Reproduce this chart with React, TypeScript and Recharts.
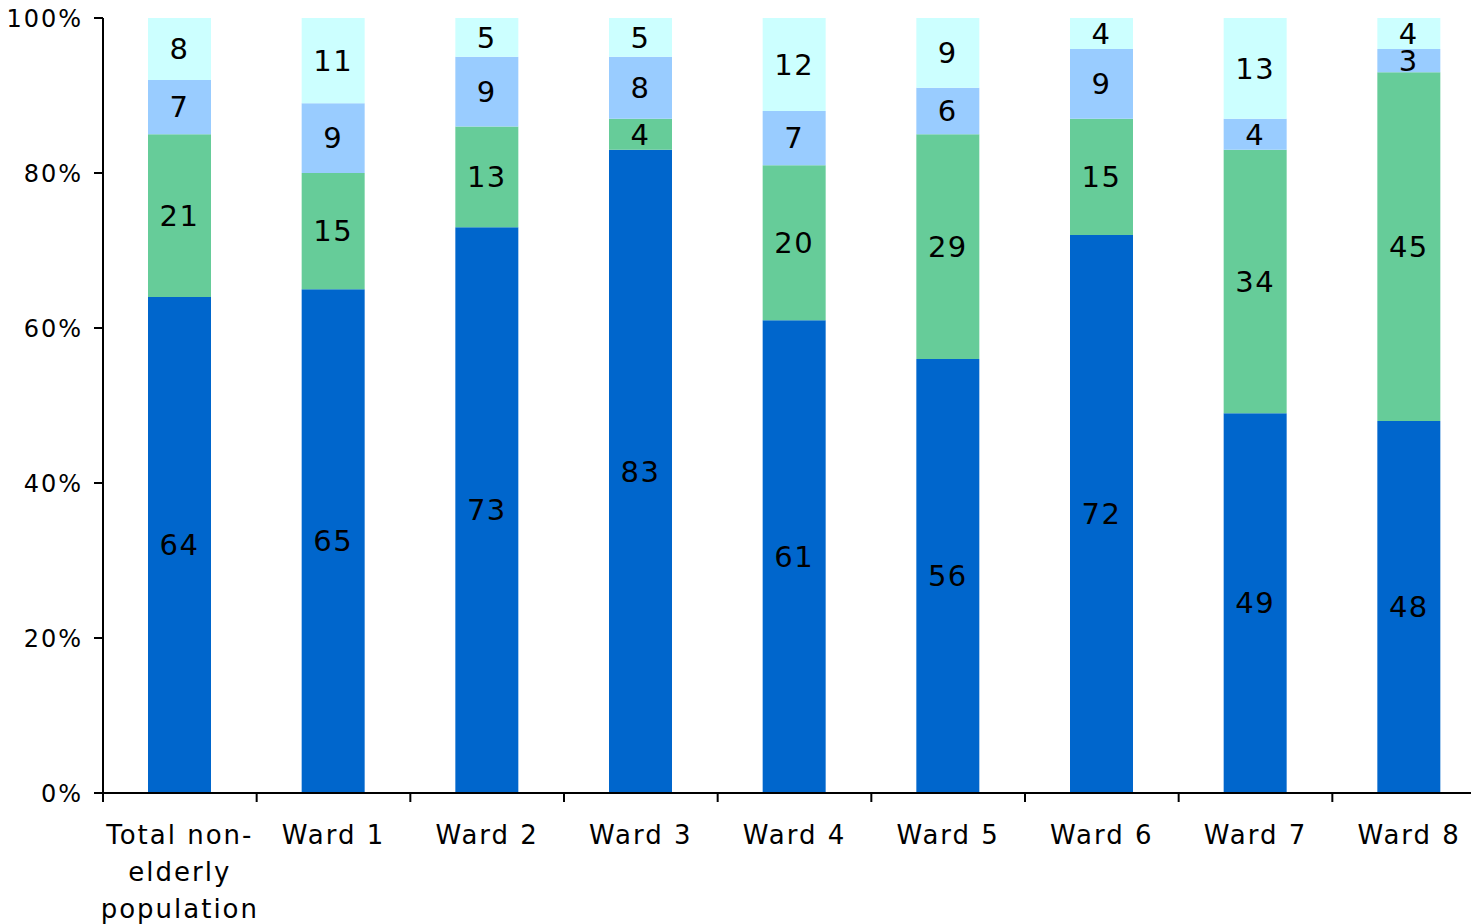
import React from 'react';
import { BarChart, Bar, XAxis, YAxis, LabelList } from 'recharts';

const categories = [
  'Total non-\nelderly\npopulation',
  'Ward 1',
  'Ward 2',
  'Ward 3',
  'Ward 4',
  'Ward 5',
  'Ward 6',
  'Ward 7',
  'Ward 8',
];

const segment1 = [64, 65, 73, 83, 61, 56, 72, 49, 48];
const segment2 = [21, 15, 13, 4, 20, 29, 15, 34, 45];
const segment3 = [7, 9, 9, 8, 7, 6, 9, 4, 3];
const segment4 = [8, 11, 5, 5, 12, 9, 4, 13, 4];

const yTicks = [0, 20, 40, 60, 80, 100];

const data = categories.map((name, i) => ({
  name,
  s1: segment1[i],
  s2: segment2[i],
  s3: segment3[i],
  s4: segment4[i],
}));

const FONT = '"DejaVu Sans", Verdana, sans-serif';

// category label plus a tick mark on the left edge of each band
const CategoryTick = (props: any) => {
  const { x, y, payload, index, visibleTicksCount } = props;
  const half = payload.offset || 0;
  const lines = String(payload.value).split('\n');
  const isLast = index === visibleTicksCount - 1;
  return (
    <g>
      <line x1={x - half} x2={x - half} y1={y} y2={y + 9} stroke="#000" strokeWidth={2} />
      {isLast && (
        <line x1={x + half} x2={x + half} y1={y} y2={y + 9} stroke="#000" strokeWidth={2} />
      )}
      <text
        x={x}
        y={y + 51}
        textAnchor="middle"
        fontFamily={FONT}
        fontSize={26}
        letterSpacing={2}
        fill="#000"
      >
        {lines.map((line, i) => (
          <tspan key={i} x={x} dy={i === 0 ? 0 : 37}>
            {line}
          </tspan>
        ))}
      </text>
    </g>
  );
};

const labelStyle = { fontFamily: FONT, fontSize: 29, fill: '#000', letterSpacing: 1.5 };

const App: React.FC = () => {
  return (
    <div
      style={{
        position: 'fixed',
        left: 0,
        top: 0,
        width: 1471,
        height: 924,
        overflow: 'hidden',
        background: '#fff',
      }}
    >
      <BarChart
        width={1498}
        height={924}
        data={data}
        barSize={63}
        margin={{ top: 18, right: 12, left: 0, bottom: 0 }}
      >
        <XAxis
          dataKey="name"
          interval={0}
          height={131}
          tickLine={false}
          tickSize={0}
          tickMargin={0}
          axisLine={{ stroke: '#000', strokeWidth: 2 }}
          tick={<CategoryTick />}
        />
        <YAxis
          width={103}
          domain={[0, 100]}
          ticks={yTicks}
          tickFormatter={(v: number) => `${v}%`}
          axisLine={{ stroke: '#000', strokeWidth: 2 }}
          tickLine={{ stroke: '#000', strokeWidth: 2 }}
          tickSize={9}
          tickMargin={11}
          tick={{ fontFamily: FONT, fontSize: 24, fill: '#000', letterSpacing: 2 }}
        />
        <Bar dataKey="s1" stackId="a" fill="#0066CC" isAnimationActive={false}>
          <LabelList dataKey="s1" position="center" style={labelStyle} />
        </Bar>
        <Bar dataKey="s2" stackId="a" fill="#66CC99" isAnimationActive={false}>
          <LabelList dataKey="s2" position="center" style={labelStyle} />
        </Bar>
        <Bar dataKey="s3" stackId="a" fill="#99CCFF" isAnimationActive={false}>
          <LabelList dataKey="s3" position="center" style={labelStyle} />
        </Bar>
        <Bar dataKey="s4" stackId="a" fill="#CCFFFF" isAnimationActive={false}>
          <LabelList dataKey="s4" position="center" style={labelStyle} />
        </Bar>
      </BarChart>
    </div>
  );
};

export default App;
